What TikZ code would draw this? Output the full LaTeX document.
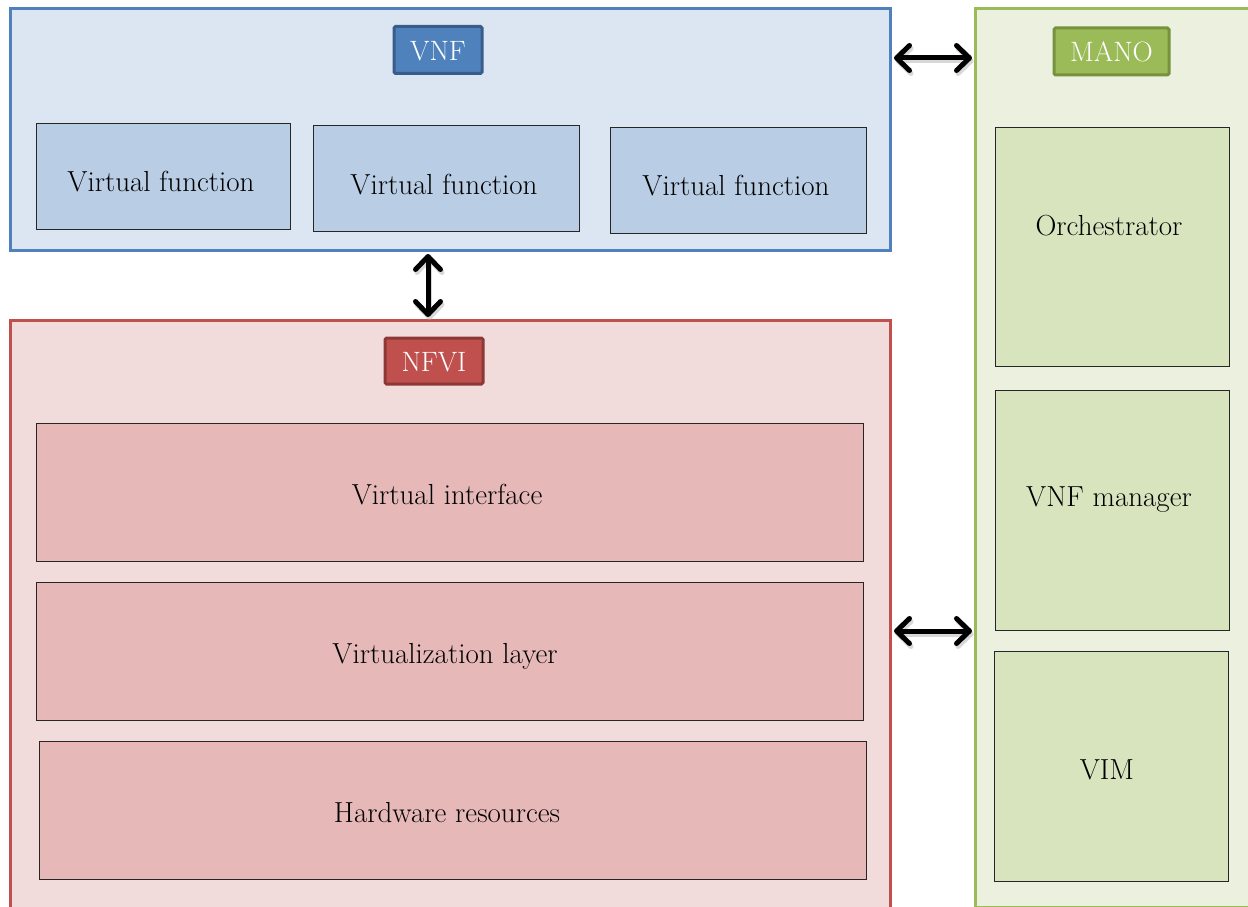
\documentclass[tikz,border=0pt]{standalone}
\usetikzlibrary{arrows.meta}
\definecolor{bluefill}{HTML}{DCE6F2}
\definecolor{blueline}{HTML}{4F81BD}
\definecolor{bluedark}{HTML}{385D8A}
\definecolor{blueinner}{HTML}{B9CDE5}
\definecolor{redfill}{HTML}{F2DCDB}
\definecolor{redline}{HTML}{C0504D}
\definecolor{reddark}{HTML}{8C3836}
\definecolor{redinner}{HTML}{E6B9B8}
\definecolor{greenfill}{HTML}{EBF1DE}
\definecolor{greenline}{HTML}{9BBB59}
\definecolor{greendark}{HTML}{76923C}
\definecolor{greeninner}{HTML}{D7E4BD}
\tikzset{
  outerbox/.style={line width=3pt, inner sep=0pt},
  titlebox/.style={line width=3pt, rounded corners=1.5pt, inner sep=0pt},
  titletext/.style={text=white, inner sep=0pt, anchor=base, font=\fontsize{28}{32}\selectfont},
  innerbox/.style={draw=black!85, line width=1pt, inner sep=0pt},
  boxtext/.style={inner sep=0pt, anchor=base, font=\fontsize{29}{34}\selectfont},
  dblarrow/.style={line width=5pt, {Straight Barb[length=13pt,width=25pt,line cap=round,line join=round]}-{Straight Barb[length=13pt,width=25pt,line cap=round,line join=round]}, shorten <=2pt, shorten >=2pt},
  shadowarrow/.style={dblarrow, draw=black!30, opacity=0.5}
}
\begin{document}
\begin{tikzpicture}[x=1pt,y=-1pt]
\useasboundingbox (0,0) rectangle (1248,907);
% outer containers
\node[outerbox, draw=blueline, fill=bluefill, minimum width=880pt, minimum height=242pt, anchor=north west] (vnf) at (9,7) {};
\node[outerbox, draw=redline, fill=redfill, minimum width=880pt, minimum height=590pt, anchor=north west] (nfvi) at (9,319) {};
\node[outerbox, draw=greenline, fill=greenfill, minimum width=290pt, minimum height=899pt, anchor=north west] (mano) at (974,7) {};
% titles
\node[titlebox, draw=bluedark, fill=blueline, minimum width=88pt, minimum height=47pt] (vnft) at (438,50) {};
\node[titletext] (vnftx) at (438,60) {VNF};
\node[titlebox, draw=reddark, fill=redline, minimum width=98pt, minimum height=46pt] (nfvit) at (434,361) {};
\node[titletext] (nfvitx) at (434,371) {NFVI};
\node[titlebox, draw=greendark, fill=greenline, minimum width=115pt, minimum height=47pt] (manot) at (1111.5,51.5) {};
\node[titletext] (manotx) at (1111.5,62) {MANO};
% VNF inner
\node[innerbox, fill=blueinner, minimum width=254pt, minimum height=106pt] (vf1) at (163,176) {};
\node[boxtext] (vf1t) at (161,191) {Virtual function};
\node[innerbox, fill=blueinner, minimum width=266pt, minimum height=106pt] (vf2) at (446,178) {};
\node[boxtext] (vf2t) at (444,194) {Virtual function};
\node[innerbox, fill=blueinner, minimum width=256pt, minimum height=106pt] (vf3) at (738,180) {};
\node[boxtext] (vf3t) at (736,195) {Virtual function};
% NFVI inner
\node[innerbox, fill=redinner, minimum width=827pt, minimum height=138pt] (vi) at (449.5,492) {};
\node[boxtext] (vit) at (447,504) {Virtual interface};
\node[innerbox, fill=redinner, minimum width=827pt, minimum height=138pt] (vl) at (449.5,651) {};
\node[boxtext] (vlt) at (445,663) {Virtualization layer};
\node[innerbox, fill=redinner, minimum width=827pt, minimum height=138pt] (hw) at (452.5,810) {};
\node[boxtext] (hwt) at (447,822) {Hardware resources};
% MANO inner
\node[innerbox, fill=greeninner, minimum width=234pt, minimum height=239pt] (orch) at (1112,246.5) {};
\node[boxtext] (orcht) at (1109,235) {Orchestrator};
\node[innerbox, fill=greeninner, minimum width=234pt, minimum height=240pt] (vnfm) at (1112,510) {};
\node[boxtext] (vnfmt) at (1109,506) {VNF manager};
\node[innerbox, fill=greeninner, minimum width=234pt, minimum height=230pt] (vim) at (1111,766) {};
\node[boxtext] (vimt) at (1107,779) {VIM};
% arrows (shadows then arrows)
\coordinate (a1) at (0,58);
\coordinate (a2) at (0,631);
\coordinate (a3) at (428,0);
\draw[shadowarrow, transform canvas={shift={(1.5pt,-3pt)}}] (vnf.east |- a1) -- (mano.west |- a1);
\draw[shadowarrow, transform canvas={shift={(1.5pt,-3pt)}}] (nfvi.east |- a2) -- (mano.west |- a2);
\draw[shadowarrow, transform canvas={shift={(1.5pt,-3pt)}}] (vnf.south -| a3) -- (nfvi.north -| a3);
\draw[dblarrow] (vnf.east |- a1) -- (mano.west |- a1);
\draw[dblarrow] (nfvi.east |- a2) -- (mano.west |- a2);
\draw[dblarrow] (vnf.south -| a3) -- (nfvi.north -| a3);
\end{tikzpicture}
\end{document}
